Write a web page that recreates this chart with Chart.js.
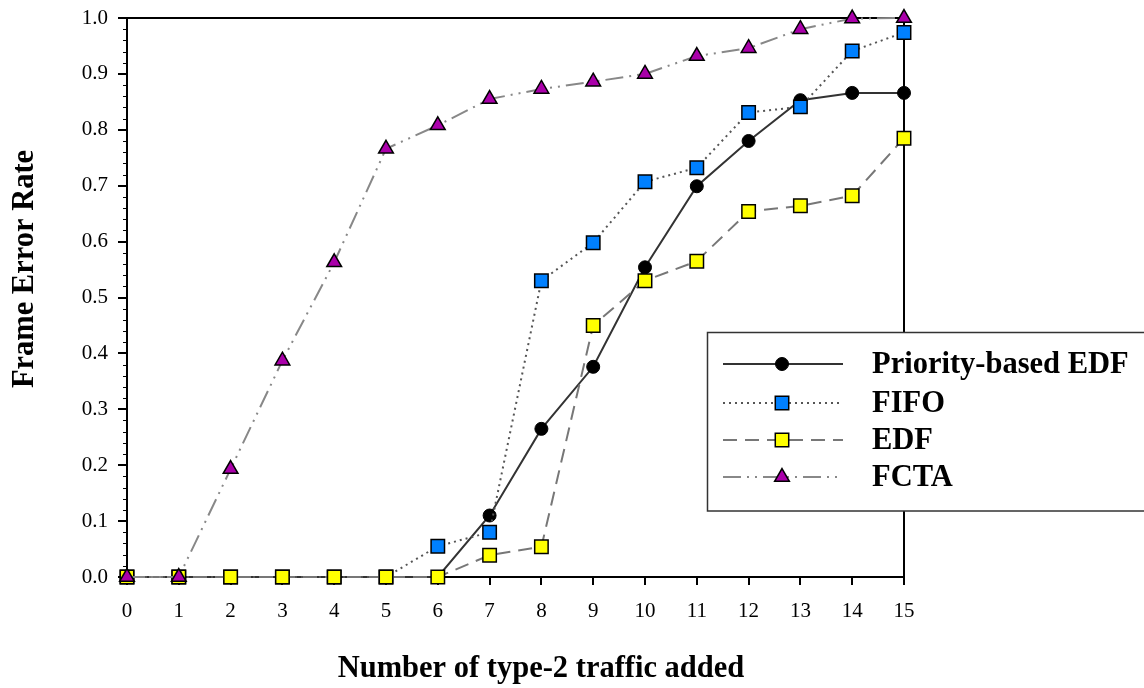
<!DOCTYPE html>
<html>
<head>
<meta charset="utf-8">
<script src="https://cdn.jsdelivr.net/npm/chart.js@4/dist/chart.umd.min.js"></script>
<style>
  html, body { margin: 0; padding: 0; background: #fff; }
  canvas { display: block; }
</style>
</head>
<body>
<canvas id="fecChart" width="1144" height="688"></canvas>
<script>
const trafficAdded = ["0", "1", "2", "3", "4", "5", "6", "7", "8", "9", "10", "11", "12", "13", "14", "15"];

const priorityEdf = [0, 0, 0, 0, 0, 0, 0, 0.11, 0.265, 0.376, 0.554, 0.699, 0.780, 0.853, 0.866, 0.866];
const fifo = [0, 0, 0, 0, 0, 0, 0.055, 0.080, 0.530, 0.598, 0.707, 0.732, 0.831, 0.841, 0.941, 0.974];
const edf = [0, 0, 0, 0, 0, 0, 0, 0.039, 0.054, 0.450, 0.530, 0.565, 0.654, 0.664, 0.682, 0.785];
const fcta = [0, 0, 0.193, 0.387, 0.563, 0.766, 0.808, 0.855, 0.873, 0.886, 0.900, 0.932, 0.946, 0.980, 0.999, 1.0];

const seriesNames = ["Priority-based EDF", "FIFO", "EDF", "FCTA"];

const serif = "'Liberation Serif', 'Times New Roman', serif";

const datasets = [
    {
        label: seriesNames[0],
        data: priorityEdf,
        borderColor: "#333333",
        borderWidth: 2,
        pointStyle: "circle",
        pointRadius: 6.5,
        pointBackgroundColor: "#000000",
        pointBorderColor: "#000000",
        pointBorderWidth: 1,
        order: 4
    },
    {
        label: seriesNames[1],
        data: fifo,
        borderColor: "#555555",
        borderWidth: 2,
        borderDash: [2, 4],
        pointStyle: "rect",
        pointRadius: 9.5,
        pointBackgroundColor: "#0080FF",
        pointBorderColor: "#000000",
        pointBorderWidth: 1.5,
        order: 3
    },
    {
        label: seriesNames[2],
        data: edf,
        borderColor: "#777777",
        borderWidth: 2,
        borderDash: [14, 8],
        pointStyle: "rect",
        pointRadius: 9.5,
        pointBackgroundColor: "#FFFF00",
        pointBorderColor: "#000000",
        pointBorderWidth: 1.5,
        order: 2
    },
    {
        label: seriesNames[3],
        data: fcta,
        borderColor: "#888888",
        borderWidth: 2,
        borderDash: [18, 6, 2, 6, 2, 6],
        pointStyle: "triangle",
        pointRadius: 8.5,
        pointBackgroundColor: "#AA00AA",
        pointBorderColor: "#000000",
        pointBorderWidth: 1.5,
        order: 1
    }
];

datasets.forEach(ds => {
    ds.tension = 0;
    ds.fill = false;
    ds.clip = false;
});

// frame, minor ticks, axis titles and legend box
const decorations = {
    id: "decorations",
    beforeDatasetsDraw(chart) {
        const ctx = chart.ctx;
        const area = chart.chartArea;
        const yScale = chart.scales.y;
        ctx.save();
        ctx.strokeStyle = "#000";
        ctx.lineWidth = 2;
        ctx.beginPath();
        ctx.moveTo(area.left, area.top);
        ctx.lineTo(area.right, area.top);
        ctx.lineTo(area.right, area.bottom);
        ctx.stroke();

        ctx.lineWidth = 1;
        for (let i = 0; i <= 50; i++) {
            if (i % 5 === 0) continue;
            const y = Math.round(yScale.getPixelForValue(i / 50)) + 0.5;
            ctx.beginPath();
            ctx.moveTo(area.left - 4, y);
            ctx.lineTo(area.left, y);
            ctx.stroke();
        }
        ctx.restore();
    },
    afterDraw(chart) {
        const ctx = chart.ctx;
        ctx.save();
        ctx.fillStyle = "#000";
        ctx.font = "bold 30.5px " + serif;
        ctx.textAlign = "center";
        ctx.textBaseline = "alphabetic";
        ctx.fillText("Number of type-2 traffic added", 541, 677);

        ctx.save();
        ctx.translate(33, 269);
        ctx.rotate(-Math.PI / 2);
        ctx.fillText("Frame Error Rate", 0, 0);
        ctx.restore();

        // legend
        const box = { left: 707.5, top: 332.5, right: 1150, bottom: 511 };
        ctx.fillStyle = "#fff";
        ctx.fillRect(box.left, box.top, box.right - box.left, box.bottom - box.top);
        ctx.strokeStyle = "#333";
        ctx.lineWidth = 1.5;
        ctx.strokeRect(box.left, box.top, box.right - box.left, box.bottom - box.top);

        const rows = [364, 403, 440, 477];
        chart.data.datasets.forEach((ds, i) => {
            const y = rows[i];
            ctx.save();
            ctx.strokeStyle = ds.borderColor;
            ctx.lineWidth = ds.borderWidth;
            ctx.setLineDash(ds.borderDash || []);
            ctx.beginPath();
            ctx.moveTo(723, y);
            ctx.lineTo(843, y);
            ctx.stroke();
            ctx.setLineDash([]);
            ctx.fillStyle = ds.pointBackgroundColor;
            ctx.strokeStyle = ds.pointBorderColor;
            ctx.lineWidth = ds.pointBorderWidth;
            Chart.helpers.drawPoint(ctx, {
                pointStyle: ds.pointStyle,
                radius: ds.pointRadius,
                borderWidth: ds.pointBorderWidth,
                rotation: 0
            }, 782, y);
            ctx.restore();

            ctx.fillStyle = "#000";
            ctx.font = "bold 30.5px " + serif;
            ctx.textAlign = "left";
            ctx.textBaseline = "middle";
            ctx.fillText(ds.label, 872, y + 1);
        });
        ctx.restore();
    }
};

const fecChart = new Chart(document.getElementById("fecChart"), {
    type: "line",
    data: {
        labels: trafficAdded,
        datasets: datasets
    },
    options: {
        responsive: false,
        animation: false,
        events: [],
        layout: {
            padding: { left: 0, top: 18, right: 240, bottom: 0 }
        },
        plugins: {
            legend: { display: false },
            title: { display: false },
            tooltip: { enabled: false }
        },
        scales: {
            x: {
                type: "category",
                offset: false,
                grid: {
                    display: true,
                    drawOnChartArea: false,
                    drawTicks: true,
                    tickLength: 8,
                    color: "#000",
                    lineWidth: 2
                },
                border: { display: true, color: "#000", width: 2 },
                ticks: {
                    color: "#000",
                    font: { family: serif, size: 21 },
                    padding: 14,
                    maxRotation: 0,
                    autoSkip: false
                },
                afterFit(scale) {
                    scale.height = 111;
                    scale.paddingLeft = 0;
                    scale.paddingRight = 0;
                }
            },
            y: {
                min: 0,
                max: 1,
                grid: {
                    display: true,
                    drawOnChartArea: false,
                    drawTicks: true,
                    tickLength: 9,
                    color: "#000",
                    lineWidth: 2
                },
                border: { display: true, color: "#000", width: 2 },
                ticks: {
                    stepSize: 0.1,
                    color: "#000",
                    font: { family: serif, size: 21 },
                    padding: 10,
                    callback: value => value.toFixed(1)
                },
                afterFit(scale) {
                    scale.width = 127;
                    scale.paddingTop = 0;
                    scale.paddingBottom = 0;
                }
            }
        }
    },
    plugins: [decorations]
});
</script>
</body>
</html>
